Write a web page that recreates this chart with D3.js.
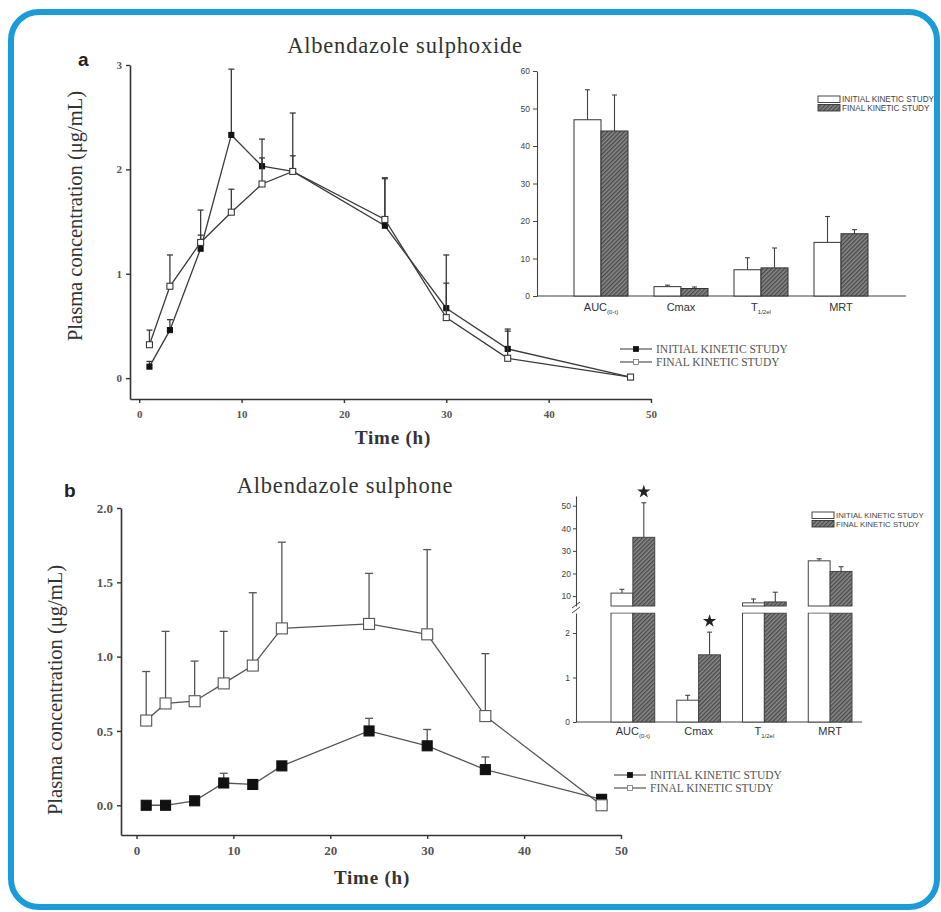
<!DOCTYPE html>
<html>
<head>
<meta charset="utf-8">
<script src="https://cdn.jsdelivr.net/npm/d3@7"></script>
<style>
  body { margin: 0; background: #fff; }
  svg { display: block; }
</style>
</head>
<body>
<script>
// sampling times (h)
const times = [1, 3, 6, 9, 12, 15, 24, 30, 36, 48]

// a: albendazole sulphoxide, mean and SD
const aInitial = [0.11, 0.46, 1.24, 2.33, 2.03, 1.98, 1.46, 0.67, 0.28, 0.01]
const aInitialSd = [0.05, 0.10, 0.37, 0.63, 0.26, 0.56, 0.46, 0.51, 0.19, 0]
const aFinal = [0.32, 0.88, 1.30, 1.59, 1.86, 1.98, 1.52, 0.58, 0.19, 0.01]
const aFinalSd = [0.14, 0.30, 0.07, 0.22, 0.25, 0.15, 0.39, 0.33, 0.26, 0]

// b: albendazole sulphone, mean and SD
const bInitial = [0.00, 0.00, 0.03, 0.15, 0.14, 0.265, 0.50, 0.40, 0.24, 0.04]
const bInitialSd = [0, 0, 0, 0.065, 0.02, 0, 0.085, 0.11, 0.085, 0.03]
const bFinal = [0.57, 0.685, 0.70, 0.82, 0.94, 1.19, 1.22, 1.15, 0.60, 0.00]
const bFinalSd = [0.33, 0.485, 0.27, 0.35, 0.49, 0.58, 0.34, 0.57, 0.42, 0]

// inset bar charts: pharmacokinetic parameters
const params = ['AUC', 'Cmax', 'T', 'MRT']
const paramSubs = ['(0-t)', '', '1/2el', '']
const insetAInitial = [47.0, 2.5, 7.0, 14.3]
const insetAInitialSd = [8.0, 0.4, 3.2, 6.9]
const insetAFinal = [44.0, 2.0, 7.5, 16.6]
const insetAFinalSd = [9.6, 0.4, 5.3, 1.1]
const insetBInitial = [11.3, 0.49, 7.0, 25.6]
const insetBInitialSd = [1.7, 0.11, 1.7, 0.9]
const insetBFinal = [36.0, 1.51, 7.4, 20.9]
const insetBFinalSd = [15.3, 0.51, 4.3, 2.1]
const insetBStar = [true, true, false, false]

const xTicks = [0, 10, 20, 30, 40, 50]
const legendLabels = ['INITIAL KINETIC STUDY', 'FINAL KINETIC STUDY']

const serif = '"Liberation Serif", "Times New Roman", serif'
const sans = '"Liberation Sans", Arial, sans-serif'

const svg = d3.select('body').append('svg')
  .attr('width', 941)
  .attr('height', 912)

// hatch pattern for final bars
const defs = svg.append('defs')
const pat = defs.append('pattern')
  .attr('id', 'hatch')
  .attr('patternUnits', 'userSpaceOnUse')
  .attr('width', 3).attr('height', 3)
  .attr('patternTransform', 'rotate(45)')
pat.append('rect').attr('width', 3).attr('height', 3).attr('fill', '#8a8a8a')
pat.append('rect').attr('width', 1.4).attr('height', 3).attr('fill', '#4a4a4a')

// blue frame
svg.append('rect')
  .attr('x', 11).attr('y', 12)
  .attr('width', 926).attr('height', 895)
  .attr('rx', 28)
  .attr('fill', 'none')
  .attr('stroke', '#1c9bd9')
  .attr('stroke-width', 6)

function mainPlot (opt) {
  const g = svg.append('g')
  const x = d3.scaleLinear().domain(opt.xDomain).range(opt.xRange)
  const y = d3.scaleLinear().domain(opt.yDomain).range(opt.yRange)

  const xAxis = g.append('g')
    .attr('transform', 'translate(0,' + opt.yRange[0] + ')')
    .call(d3.axisBottom(x).tickValues(xTicks).tickSize(4).tickSizeOuter(0).tickPadding(7))
  const yAxis = g.append('g')
    .attr('transform', 'translate(' + opt.xRange[0] + ',0)')
    .call(d3.axisLeft(y).tickValues(opt.yTicks).tickFormat(opt.yFormat).tickSize(4).tickSizeOuter(0).tickPadding(4))
  ;[xAxis, yAxis].forEach(function (ax) {
    ax.select('.domain').attr('stroke', '#333').attr('stroke-width', 1.6)
    ax.selectAll('.tick line').attr('stroke', '#333').attr('stroke-width', 1.4)
    ax.selectAll('.tick text')
      .attr('font-family', serif)
      .attr('font-size', opt.tickSize)
      .attr('font-weight', 'bold')
      .attr('fill', '#555')
  })

  const series = [
    { vals: opt.initial, sd: opt.initialSd, filled: true },
    { vals: opt.final, sd: opt.finalSd, filled: false }
  ]
  const line = d3.line()
    .x(function (d) { return x(d[0]) })
    .y(function (d) { return y(d[1]) })

  series.forEach(function (s) {
    const pts = times.map(function (t, i) { return [t, s.vals[i], s.sd[i]] })
    g.append('path')
      .datum(pts)
      .attr('d', line)
      .attr('fill', 'none')
      .attr('stroke', opt.lineColor)
      .attr('stroke-width', 1.3)
    // error bars (upper only)
    const eb = g.selectAll(null).data(pts.filter(function (d) { return d[2] > 0 })).enter()
    eb.append('line')
      .attr('x1', function (d) { return x(d[0]) })
      .attr('x2', function (d) { return x(d[0]) })
      .attr('y1', function (d) { return y(d[1]) })
      .attr('y2', function (d) { return y(d[1] + d[2]) })
      .attr('stroke', opt.lineColor).attr('stroke-width', 1.3)
    eb.append('line')
      .attr('x1', function (d) { return x(d[0]) - opt.cap })
      .attr('x2', function (d) { return x(d[0]) + opt.cap })
      .attr('y1', function (d) { return y(d[1] + d[2]) })
      .attr('y2', function (d) { return y(d[1] + d[2]) })
      .attr('stroke', opt.lineColor).attr('stroke-width', 1.3)
    const m = s.filled ? opt.filledSize : opt.openSize
    g.selectAll(null).data(pts).enter()
      .append('rect')
      .attr('x', function (d) { return x(d[0]) - m / 2 })
      .attr('y', function (d) { return y(d[1]) - m / 2 })
      .attr('width', m).attr('height', m)
      .attr('fill', s.filled ? '#111' : '#fff')
      .attr('stroke', s.filled ? '#111' : opt.lineColor)
      .attr('stroke-width', 1.1)
  })

  // legend
  legendLabels.forEach(function (lab, i) {
    const ly = opt.legend[1] + i * 13
    const lx = opt.legend[0]
    g.append('line')
      .attr('x1', lx).attr('x2', lx + 32)
      .attr('y1', ly - 4).attr('y2', ly - 4)
      .attr('stroke', '#444').attr('stroke-width', 1.1)
    g.append('rect')
      .attr('x', lx + 13.5).attr('y', ly - 6.5)
      .attr('width', 5).attr('height', 5)
      .attr('fill', i === 0 ? '#111' : '#fff')
      .attr('stroke', i === 0 ? '#111' : '#777')
      .attr('stroke-width', 0.8)
    g.append('text')
      .attr('x', lx + 36).attr('y', ly)
      .attr('font-family', serif)
      .attr('font-size', 11.5)
      .attr('fill', '#555')
      .text(lab)
  })

  // titles and labels
  g.append('text')
    .attr('x', opt.title[0]).attr('y', opt.title[1])
    .attr('text-anchor', 'middle')
    .attr('font-family', serif).attr('font-size', 22.5)
    .attr('letter-spacing', 0.8)
    .attr('fill', '#333')
    .text(opt.titleText)
  g.append('text')
    .attr('x', opt.letter[0]).attr('y', opt.letter[1])
    .attr('font-family', sans).attr('font-size', 19).attr('font-weight', 'bold')
    .attr('fill', '#222')
    .text(opt.letterText)
  g.append('text')
    .attr('transform', 'translate(' + opt.ylab[0] + ',' + opt.ylab[1] + ') rotate(-90)')
    .attr('text-anchor', 'middle')
    .attr('font-family', serif).attr('font-size', 20.5)
    .attr('fill', '#333')
    .text('Plasma concentration (\u03bcg/mL)')
  g.append('text')
    .attr('x', opt.xlab[0]).attr('y', opt.xlab[1])
    .attr('text-anchor', 'middle')
    .attr('font-family', serif).attr('font-size', 19).attr('font-weight', 'bold')
    .attr('letter-spacing', 0.8)
    .attr('fill', '#333')
    .text('Time (h)')
}

mainPlot({
  xDomain: [-0.9, 50], xRange: [130, 651],
  yDomain: [-0.2, 3], yRange: [399, 65],
  yTicks: [0, 1, 2, 3], yFormat: d3.format('d'),
  tickSize: 11,
  initial: aInitial, initialSd: aInitialSd, final: aFinal, finalSd: aFinalSd,
  lineColor: '#3a3a3a', cap: 3, filledSize: 5, openSize: 6,
  legend: [620, 353],
  title: [405, 53], titleText: 'Albendazole sulphoxide',
  letter: [78, 66], letterText: 'a',
  ylab: [82, 216], xlab: [393, 444]
})

mainPlot({
  xDomain: [-1.6, 50], xRange: [121, 621],
  yDomain: [-0.2, 2.0], yRange: [835, 508],
  yTicks: [0, 0.5, 1, 1.5, 2], yFormat: d3.format('.1f'),
  tickSize: 13,
  initial: bInitial, initialSd: bInitialSd, final: bFinal, finalSd: bFinalSd,
  lineColor: '#555', cap: 4, filledSize: 10, openSize: 11,
  legend: [614, 779],
  title: [345, 493], titleText: 'Albendazole sulphone',
  letter: [64, 497], letterText: 'b',
  ylab: [62, 690], xlab: [372, 884]
})

function paramLabel (g, x, yPos, i, size) {
  const t = g.append('text')
    .attr('x', x).attr('y', yPos)
    .attr('text-anchor', 'middle')
    .attr('font-family', sans).attr('font-size', size)
    .attr('fill', '#333')
  t.append('tspan').text(params[i])
  if (paramSubs[i]) {
    t.append('tspan').attr('dy', 3).attr('font-size', size * 0.55).text(paramSubs[i])
  }
}

function insetLegend (g, lx, ly, fs) {
  legendLabels.forEach(function (lab, i) {
    g.append('rect')
      .attr('x', lx).attr('y', ly + i * 8.5)
      .attr('width', 22).attr('height', 6.5)
      .attr('fill', i === 0 ? '#fff' : 'url(#hatch)')
      .attr('stroke', '#333').attr('stroke-width', 0.9)
    g.append('text')
      .attr('x', lx + 24).attr('y', ly + i * 8.5 + 6.3)
      .attr('font-family', sans).attr('font-size', fs)
      .attr('fill', '#444')
      .text(lab)
  })
}

function barErr (g, cx, yTop, yErr, cap) {
  g.append('line')
    .attr('x1', cx).attr('x2', cx).attr('y1', yTop).attr('y2', yErr)
    .attr('stroke', '#444').attr('stroke-width', 1.1)
  g.append('line')
    .attr('x1', cx - cap).attr('x2', cx + cap).attr('y1', yErr).attr('y2', yErr)
    .attr('stroke', '#444').attr('stroke-width', 1.1)
}

function styleInsetAxis (ax) {
  ax.select('.domain').attr('stroke', '#444').attr('stroke-width', 1.1)
  ax.selectAll('.tick line').attr('stroke', '#444')
  ax.selectAll('.tick text').attr('font-family', sans).attr('font-size', 8.5).attr('fill', '#444')
}

function starAt (g, cx, cy) {
  g.append('path')
    .attr('d', d3.symbol(d3.symbolStar, 55)())
    .attr('transform', 'translate(' + cx + ',' + cy + ')')
    .attr('fill', '#222')
}

// inset a
;(function () {
  const g = svg.append('g')
  const x0 = d3.scaleBand().domain(params).range([561, 881]).paddingInner(0.325).paddingOuter(0.1625)
  const x1 = d3.scaleBand().domain(['i', 'f']).range([0, x0.bandwidth()])
  const y = d3.scaleLinear().domain([0, 60]).range([296, 71])
  const ax = g.append('g').attr('transform', 'translate(537,0)')
    .call(d3.axisLeft(y).tickValues([0, 10, 20, 30, 40, 50, 60]).tickSize(4).tickSizeOuter(0).tickPadding(3))
  styleInsetAxis(ax)
  g.append('line').attr('x1', 537).attr('x2', 906).attr('y1', y(0)).attr('y2', y(0))
    .attr('stroke', '#444').attr('stroke-width', 1.1)
  params.forEach(function (p, i) {
    const bars = [
      { k: 'i', v: insetAInitial[i], sd: insetAInitialSd[i], fill: '#fff' },
      { k: 'f', v: insetAFinal[i], sd: insetAFinalSd[i], fill: 'url(#hatch)' }
    ]
    bars.forEach(function (b) {
      const bx = x0(p) + x1(b.k)
      barErr(g, bx + x1.bandwidth() / 2, y(b.v), y(b.v + b.sd), 2.5)
      g.append('rect')
        .attr('x', bx).attr('y', y(b.v))
        .attr('width', x1.bandwidth()).attr('height', y(0) - y(b.v))
        .attr('fill', b.fill).attr('stroke', '#333').attr('stroke-width', 1)
    })
    paramLabel(g, x0(p) + x0.bandwidth() / 2, 311, i, 11)
  })
  insetLegend(g, 818, 96, 8.2)
})()

// inset b (broken axis)
;(function () {
  const g = svg.append('g')
  const x0 = d3.scaleBand().domain(params).range([600, 863]).paddingInner(0.335).paddingOuter(0.1675)
  const x1 = d3.scaleBand().domain(['i', 'f']).range([0, x0.bandwidth()])
  const lower = d3.scaleLinear().domain([0, 2.45]).range([722, 613])
  const upper = d3.scaleLinear().domain([5.6, 54.3]).range([606, 496])
  const axL = g.append('g').attr('transform', 'translate(576,0)')
    .call(d3.axisLeft(lower).tickValues([0, 1, 2]).tickFormat(d3.format('d')).tickSize(3).tickSizeOuter(0).tickPadding(3))
  const axU = g.append('g').attr('transform', 'translate(576,0)')
    .call(d3.axisLeft(upper).tickValues([10, 20, 30, 40, 50]).tickSize(3).tickSizeOuter(0).tickPadding(2))
  styleInsetAxis(axL)
  styleInsetAxis(axU)
  g.append('line').attr('x1', 576).attr('x2', 862).attr('y1', lower(0)).attr('y2', lower(0))
    .attr('stroke', '#444').attr('stroke-width', 1.1)

  params.forEach(function (p, i) {
    const bars = [
      { k: 'i', v: insetBInitial[i], sd: insetBInitialSd[i], fill: '#fff', star: false },
      { k: 'f', v: insetBFinal[i], sd: insetBFinalSd[i], fill: 'url(#hatch)', star: insetBStar[i] }
    ]
    bars.forEach(function (b) {
      const bx = x0(p) + x1(b.k)
      const bw = x1.bandwidth()
      const cx = bx + bw / 2
      const sc = b.v <= 2.45 ? lower : upper
      const yTop = sc(b.v)
      const yE = sc(b.v + b.sd)
      barErr(g, cx, yTop, yE, 2.5)
      if (b.v <= 2.45) {
        g.append('rect').attr('x', bx).attr('y', yTop)
          .attr('width', bw).attr('height', lower(0) - yTop)
          .attr('fill', b.fill).attr('stroke', '#444').attr('stroke-width', 1)
      } else {
        g.append('rect').attr('x', bx).attr('y', lower(2.45))
          .attr('width', bw).attr('height', lower(0) - lower(2.45))
          .attr('fill', b.fill).attr('stroke', '#444').attr('stroke-width', 1)
        g.append('rect').attr('x', bx).attr('y', yTop)
          .attr('width', bw).attr('height', upper(5.6) - yTop)
          .attr('fill', b.fill).attr('stroke', '#444').attr('stroke-width', 1)
      }
      if (b.star) starAt(g, cx, yE - 11)
    })
    paramLabel(g, x0(p) + x0.bandwidth() / 2, 735, i, 11)
  })
  // white gap across the break
  g.append('rect').attr('x', 573).attr('y', lower(2.45) - 6).attr('width', 294).attr('height', 5.5)
    .attr('fill', '#fff')
  // break marks on the axis
  ;[606, 611].forEach(function (by) {
    g.append('line').attr('x1', 572).attr('x2', 580).attr('y1', by + 2).attr('y2', by - 4)
      .attr('stroke', '#444').attr('stroke-width', 1)
  })
  insetLegend(g, 812, 512, 7.8)
})()
</script>
</body>
</html>
